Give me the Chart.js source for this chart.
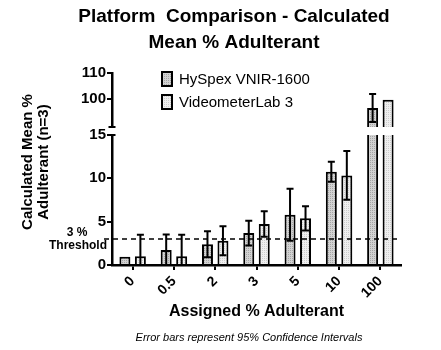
<!DOCTYPE html>
<html>
<head>
<meta charset="utf-8">
<script src="https://cdn.jsdelivr.net/npm/chart.js@4.4.1/dist/chart.umd.min.js"></script>
<style>
    html, body { margin: 0; padding: 0; background: #fff; }
    #wrap { width: 441px; height: 350px; }
</style>
</head>
<body>
<div id="wrap"><canvas id="chart" width="441" height="350"></canvas></div>
<script>
(function() {

    var categories = ['0', '0.5', '2', '3', '5', '10', '100'];
    var hyspexMean = [0.95, 1.73, 2.38, 3.69, 5.8, 10.76, 96.5];
    var hyspexCI   = [0, 1.8, 1.5, 1.43, 3.0, 1.15, 5.4];
    var videoMean  = [1.0, 1.0, 2.8, 4.73, 5.38, 10.34, 99.7];
    var videoCI    = [2.5, 2.5, 1.67, 1.46, 1.4, 2.8, 0];
    var lowTicks   = [0, 5, 10, 15];
    var highTicks  = [100, 110];
    var threshold  = 3;

    var lowMax = 15;
    var highMin = 89.2;
    var highMax = 110;

    function stipple(base, dot) {
        var c = document.createElement('canvas');
        c.width = 2;
        c.height = 2;
        var g = c.getContext('2d');
        g.fillStyle = base;
        g.fillRect(0, 0, 2, 2);
        g.fillStyle = dot;
        g.fillRect(0, 0, 1, 1);
        return g.createPattern(c, 'repeat');
    }

    function upperPart(values) {
        var out = [];
        for (var i = 0; i < values.length; i++) {
            out.push(values[i] > lowMax ? values[i] : null);
        }
        return out;
    }

    var hyFill = stipple('#d2d2d2', '#a6a6a6');
    var vidFill = stipple('#efefef', '#cdcdcd');

    function fitWidth(s) { s.width = 112; }

    var decor = {
        id: 'decor',
        beforeDatasetDraw: function(chart, args) {
            var ys = args.meta.yScale, a = chart.chartArea, c = chart.ctx;
            c.save();
            c.beginPath();
            c.rect(a.left, ys.top, a.right - a.left, ys.bottom - ys.top);
            c.clip();
        },
        afterDatasetDraw: function(chart, args) {
            var meta = args.meta, ys = meta.yScale, c = chart.ctx;
            var ds = chart.data.datasets[args.index];
            c.strokeStyle = '#000';
            c.lineWidth = 2;
            for (var i = 0; i < ds.data.length; i++) {
                var v = ds.data[i], e = ds.ci[i];
                if (v === null || !e) continue;
                var x = meta.data[i].x;
                var t = ys.getPixelForValue(v + e);
                var b = ys.getPixelForValue(v - e);
                c.beginPath();
                c.moveTo(x, t); c.lineTo(x, b);
                c.moveTo(x - 3.5, t); c.lineTo(x + 3.5, t);
                c.moveTo(x - 3.5, b); c.lineTo(x + 3.5, b);
                c.stroke();
            }
            c.restore();
        },
        afterDatasetsDraw: function(chart) {
            var c = chart.ctx, a = chart.chartArea;
            var yl = chart.scales.y;
            var ty = yl.getPixelForValue(threshold);
            c.save();
            c.strokeStyle = '#000';
            c.lineWidth = 1.5;
            c.setLineDash([5, 4]);
            c.beginPath();
            c.moveTo(104, ty);
            c.lineTo(a.right, ty);
            c.stroke();
            c.restore();
        },
        afterDraw: function(chart) {
            var c = chart.ctx;
            var yl = chart.scales.y, yt = chart.scales.yTop;
            c.save();
            c.fillStyle = '#000';

            // axis break caps
            c.strokeStyle = '#000';
            c.lineWidth = 2;
            c.beginPath();
            c.moveTo(108.5, yt.bottom); c.lineTo(115.5, yt.bottom);
            c.moveTo(108.5, yl.top); c.lineTo(115.5, yl.top);
            c.stroke();

            // title
            c.textAlign = 'center';
            c.textBaseline = 'middle';
            c.font = 'bold 19px "Liberation Sans", Arial, sans-serif';
            c.fillText('Platform  Comparison - Calculated', 234, 17);
            c.fillText('Mean % Adulterant', 234, 43);

            // y axis title
            c.save();
            c.translate(0, 162);
            c.rotate(-Math.PI / 2);
            c.font = 'bold 15px "Liberation Sans", Arial, sans-serif';
            c.fillText('Calculated Mean %', 0, 28);
            c.fillText('Adulterant (n=3)', 0, 44);
            c.restore();

            // threshold label
            c.font = 'bold 12px "Liberation Sans", Arial, sans-serif';
            c.fillText('3 %', 77, 233);
            c.fillText('Threshold', 78, 246);

            // footnote
            c.font = 'italic 11px "Liberation Sans", Arial, sans-serif';
            c.fillText('Error bars represent 95% Confidence Intervals', 249, 338);

            // legend
            var items = [
                {text: chart.data.datasets[0].label, fill: hyFill, y: 72},
                {text: chart.data.datasets[1].label, fill: vidFill, y: 95}
            ];
            c.textAlign = 'left';
            c.font = '15px "Liberation Sans", Arial, sans-serif';
            for (var i = 0; i < items.length; i++) {
                c.fillStyle = items[i].fill;
                c.fillRect(162, items[i].y, 10, 14);
                c.strokeStyle = '#000';
                c.lineWidth = 2;
                c.strokeRect(162, items[i].y, 10, 14);
                c.fillStyle = '#000';
                c.fillText(items[i].text, 179, items[i].y + 8);
            }
            c.restore();
        }
    };

    var ctx = document.getElementById('chart').getContext('2d');

    var chart = new Chart(ctx, {
        type: 'bar',
        data: {
            labels: categories,
            datasets: [
                {label: 'HySpex VNIR-1600', data: hyspexMean, ci: hyspexCI, yAxisID: 'y', stack: 'hy', backgroundColor: hyFill},
                {label: 'VideometerLab 3', data: videoMean, ci: videoCI, yAxisID: 'y', stack: 'vid', backgroundColor: vidFill},
                {label: 'HySpex VNIR-1600', data: upperPart(hyspexMean), ci: hyspexCI, yAxisID: 'yTop', stack: 'hy', backgroundColor: hyFill},
                {label: 'VideometerLab 3', data: upperPart(videoMean), ci: videoCI, yAxisID: 'yTop', stack: 'vid', backgroundColor: vidFill}
            ]
        },
        options: {
            responsive: false,
            animation: false,
            layout: {padding: {left: 0, right: 40, top: 73, bottom: 0}},
            datasets: {
                bar: {
                    borderColor: '#000',
                    borderWidth: 2,
                    categoryPercentage: 0.75,
                    barPercentage: 0.71
                }
            },
            plugins: {
                legend: {display: false},
                title: {display: false},
                tooltip: {enabled: false}
            },
            scales: {
                x: {
                    z: 1,
                    afterFit: function(s) { s.height = 85; },
                    border: {color: '#000', width: 2.5},
                    grid: {display: true, drawOnChartArea: false, offset: false, tickLength: 5, color: '#000', lineWidth: 2},
                    ticks: {
                        color: '#000',
                        minRotation: 45,
                        maxRotation: 45,
                        padding: 3,
                        font: {family: '"Liberation Sans", Arial, sans-serif', size: 14, weight: 'bold'}
                    },
                    title: {
                        display: true,
                        text: 'Assigned % Adulterant',
                        color: '#000',
                        padding: {top: 0, bottom: 29},
                        font: {family: '"Liberation Sans", Arial, sans-serif', size: 16, weight: 'bold'}
                    }
                },
                y: {
                    z: 1,
                    stack: 'left',
                    stackWeight: 130,
                    stacked: false,
                    min: 0,
                    max: lowMax,
                    afterFit: fitWidth,
                    afterBuildTicks: function(s) {
                        s.ticks = lowTicks.map(function(v) { return {value: v}; });
                    },
                    border: {color: '#000', width: 2.5},
                    grid: {display: true, drawOnChartArea: false, tickLength: 5, color: '#000', lineWidth: 2},
                    ticks: {
                        color: '#000',
                        padding: 1,
                        font: {family: '"Liberation Sans", Arial, sans-serif', size: 15, weight: 'bold'}
                    }
                },
                yGap: {
                    stack: 'left',
                    stackWeight: 8,
                    afterFit: fitWidth,
                    border: {display: false},
                    grid: {display: false},
                    ticks: {display: false}
                },
                yTop: {
                    z: 1,
                    stack: 'left',
                    stackWeight: 54,
                    stacked: false,
                    min: highMin,
                    max: highMax,
                    afterFit: fitWidth,
                    afterBuildTicks: function(s) {
                        s.ticks = highTicks.map(function(v) { return {value: v}; });
                    },
                    border: {color: '#000', width: 2.5},
                    grid: {display: true, drawOnChartArea: false, tickLength: 5, color: '#000', lineWidth: 2},
                    ticks: {
                        color: '#000',
                        padding: 1,
                        font: {family: '"Liberation Sans", Arial, sans-serif', size: 15, weight: 'bold'}
                    }
                }
            }
        },
        plugins: [decor]
    });

})();
</script>
</body>
</html>
